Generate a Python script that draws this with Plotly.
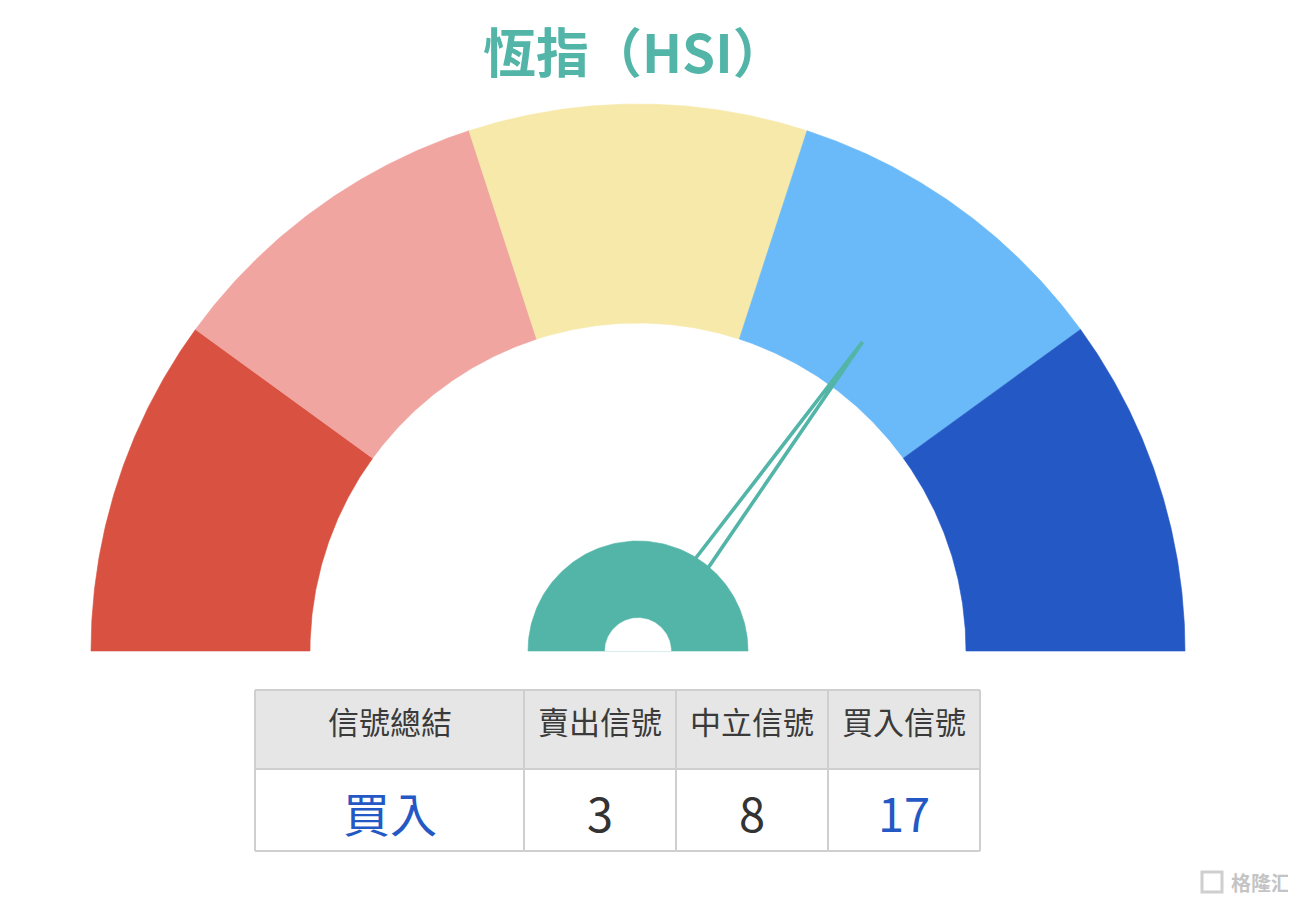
import numpy as np
import plotly.graph_objects as go

# ---------------- data ----------------
title_text = "恆指（HSI）"
segment_edges = [0, 20, 40, 60, 80, 100]
segment_colors = ["#d95140", "#f0a5a0", "#f6e9a9", "#6ab9f8", "#2458c4"]
needle_value = 70
table_headers = ["信號總結", "賣出信號", "中立信號", "買入信號"]
summary_label = "買入"
signal_counts = [3, 8, 17]
count_colors = ["#333333", "#333333", "#2458c4"]
watermark = "格隆汇"

# ---------------- layout constants (pixels) ----------------
W, H = 1296, 902
OFF = 8  # page body margin
CX, CY = 638, 651
R_OUT, R_IN = 547, 328
HUB_OUT, HUB_IN = 110, 33
NEEDLE_LEN, NEEDLE_BASE = 382, 11
TEAL = "#52b5a8"
FONT = "Noto Sans CJK TC"


def ang(v):
    # value 0 -> left (180 deg), 100 -> right (0 deg)
    return np.pi * (1 - v / 100.0)


def pt(r, a):
    return CX + r * np.cos(a), CY - r * np.sin(a)


def annulus(v0, v1, r0, r1, n=120):
    a = np.linspace(ang(v0), ang(v1), n)
    xo, yo = pt(r1, a)
    xi, yi = pt(r0, a[::-1])
    x = np.concatenate([xo, xi, xo[:1]])
    y = np.concatenate([yo, yi, yo[:1]])
    return x, y


fig = go.Figure()

# gauge segments
for i, col in enumerate(segment_colors):
    x, y = annulus(segment_edges[i], segment_edges[i + 1], R_IN, R_OUT)
    fig.add_trace(go.Scatter(x=x, y=y, mode="lines", fill="toself",
                             fillcolor=col, line=dict(color=col, width=0.6),
                             hoverinfo="skip", showlegend=False))

# needle (two converging lines)
a = ang(needle_value)
tx, ty = pt(NEEDLE_LEN, a)
b1x, b1y = pt(NEEDLE_BASE, a + np.pi / 2)
b2x, b2y = pt(NEEDLE_BASE, a - np.pi / 2)
t0 = 0.2
s1x, s1y = b1x + t0 * (tx - b1x), b1y + t0 * (ty - b1y)
s2x, s2y = b2x + t0 * (tx - b2x), b2y + t0 * (ty - b2y)
fig.add_trace(go.Scatter(x=[s1x, tx, s2x], y=[s1y, ty, s2y], mode="lines",
                         line=dict(color=TEAL, width=3.6), hoverinfo="skip",
                         showlegend=False))

# hub
x, y = annulus(0, 100, 0, HUB_OUT)
fig.add_trace(go.Scatter(x=x, y=y, mode="lines", fill="toself", fillcolor=TEAL,
                         line=dict(color=TEAL, width=0.6), hoverinfo="skip",
                         showlegend=False))
x, y = annulus(0, 100, 0, HUB_IN)
fig.add_trace(go.Scatter(x=x, y=y, mode="lines", fill="toself", fillcolor="white",
                         line=dict(color="white", width=0.6), hoverinfo="skip",
                         showlegend=False))

# ---------------- table ----------------
col_x = [255, 524, 676, 828, 980]
row_y = [690, 769, 851]
border = "#cfcfcf"
shapes = []
shapes.append(dict(type="rect", xref="x", yref="y", x0=col_x[0], x1=col_x[-1],
                   y0=row_y[0], y1=row_y[1], fillcolor="#e6e6e6",
                   line=dict(width=0), layer="below"))
for xv in col_x:
    shapes.append(dict(type="line", xref="x", yref="y", x0=xv, x1=xv,
                       y0=row_y[0], y1=row_y[-1], line=dict(color=border, width=2)))
for yv in row_y:
    shapes.append(dict(type="line", xref="x", yref="y", x0=col_x[0], x1=col_x[-1],
                       y0=yv, y1=yv, line=dict(color=border, width=2)))

annotations = []
annotations.append(dict(text=title_text, x=CX - 4, y=50, xref="x", yref="y",
                        showarrow=False, xanchor="center", yanchor="middle",
                        font=dict(family=FONT, size=53, color=TEAL, weight="bold")))
for i, h in enumerate(table_headers):
    annotations.append(dict(text=h, x=(col_x[i] + col_x[i + 1]) / 2, y=720,
                            xref="x", yref="y", showarrow=False,
                            xanchor="center", yanchor="middle",
                            font=dict(family=FONT, size=31, color="#3a3a3a")))
annotations.append(dict(text=summary_label, x=(col_x[0] + col_x[1]) / 2, y=811,
                        xref="x", yref="y", showarrow=False, xanchor="center",
                        yanchor="middle",
                        font=dict(family=FONT, size=47, color="#2458c4")))
for i, (v, c) in enumerate(zip(signal_counts, count_colors)):
    annotations.append(dict(text=str(v), x=(col_x[i + 1] + col_x[i + 2]) / 2, y=811,
                            xref="x", yref="y", showarrow=False, xanchor="center",
                            yanchor="middle",
                            font=dict(family=FONT, size=47, color=c)))

# watermark
shapes.append(dict(type="rect", xref="x", yref="y", x0=1202, x1=1222, y0=872, y1=892,
                   line=dict(color="#cfcfcf", width=3)))
annotations.append(dict(text=watermark, x=1229, y=882, xref="x", yref="y",
                        showarrow=False, xanchor="left", yanchor="middle",
                        font=dict(family=FONT, size=20, color="#c4c4c4",
                                  weight="bold")))

fig.update_layout(
    width=W - OFF, height=H - OFF, autosize=False,
    margin=dict(l=0, r=0, t=0, b=0),
    paper_bgcolor="white", plot_bgcolor="white",
    xaxis=dict(range=[OFF, W], visible=False, fixedrange=True),
    yaxis=dict(range=[H, OFF], visible=False, fixedrange=True),
    shapes=shapes, annotations=annotations,
    showlegend=False,
)

fig.write_html("out.html")
